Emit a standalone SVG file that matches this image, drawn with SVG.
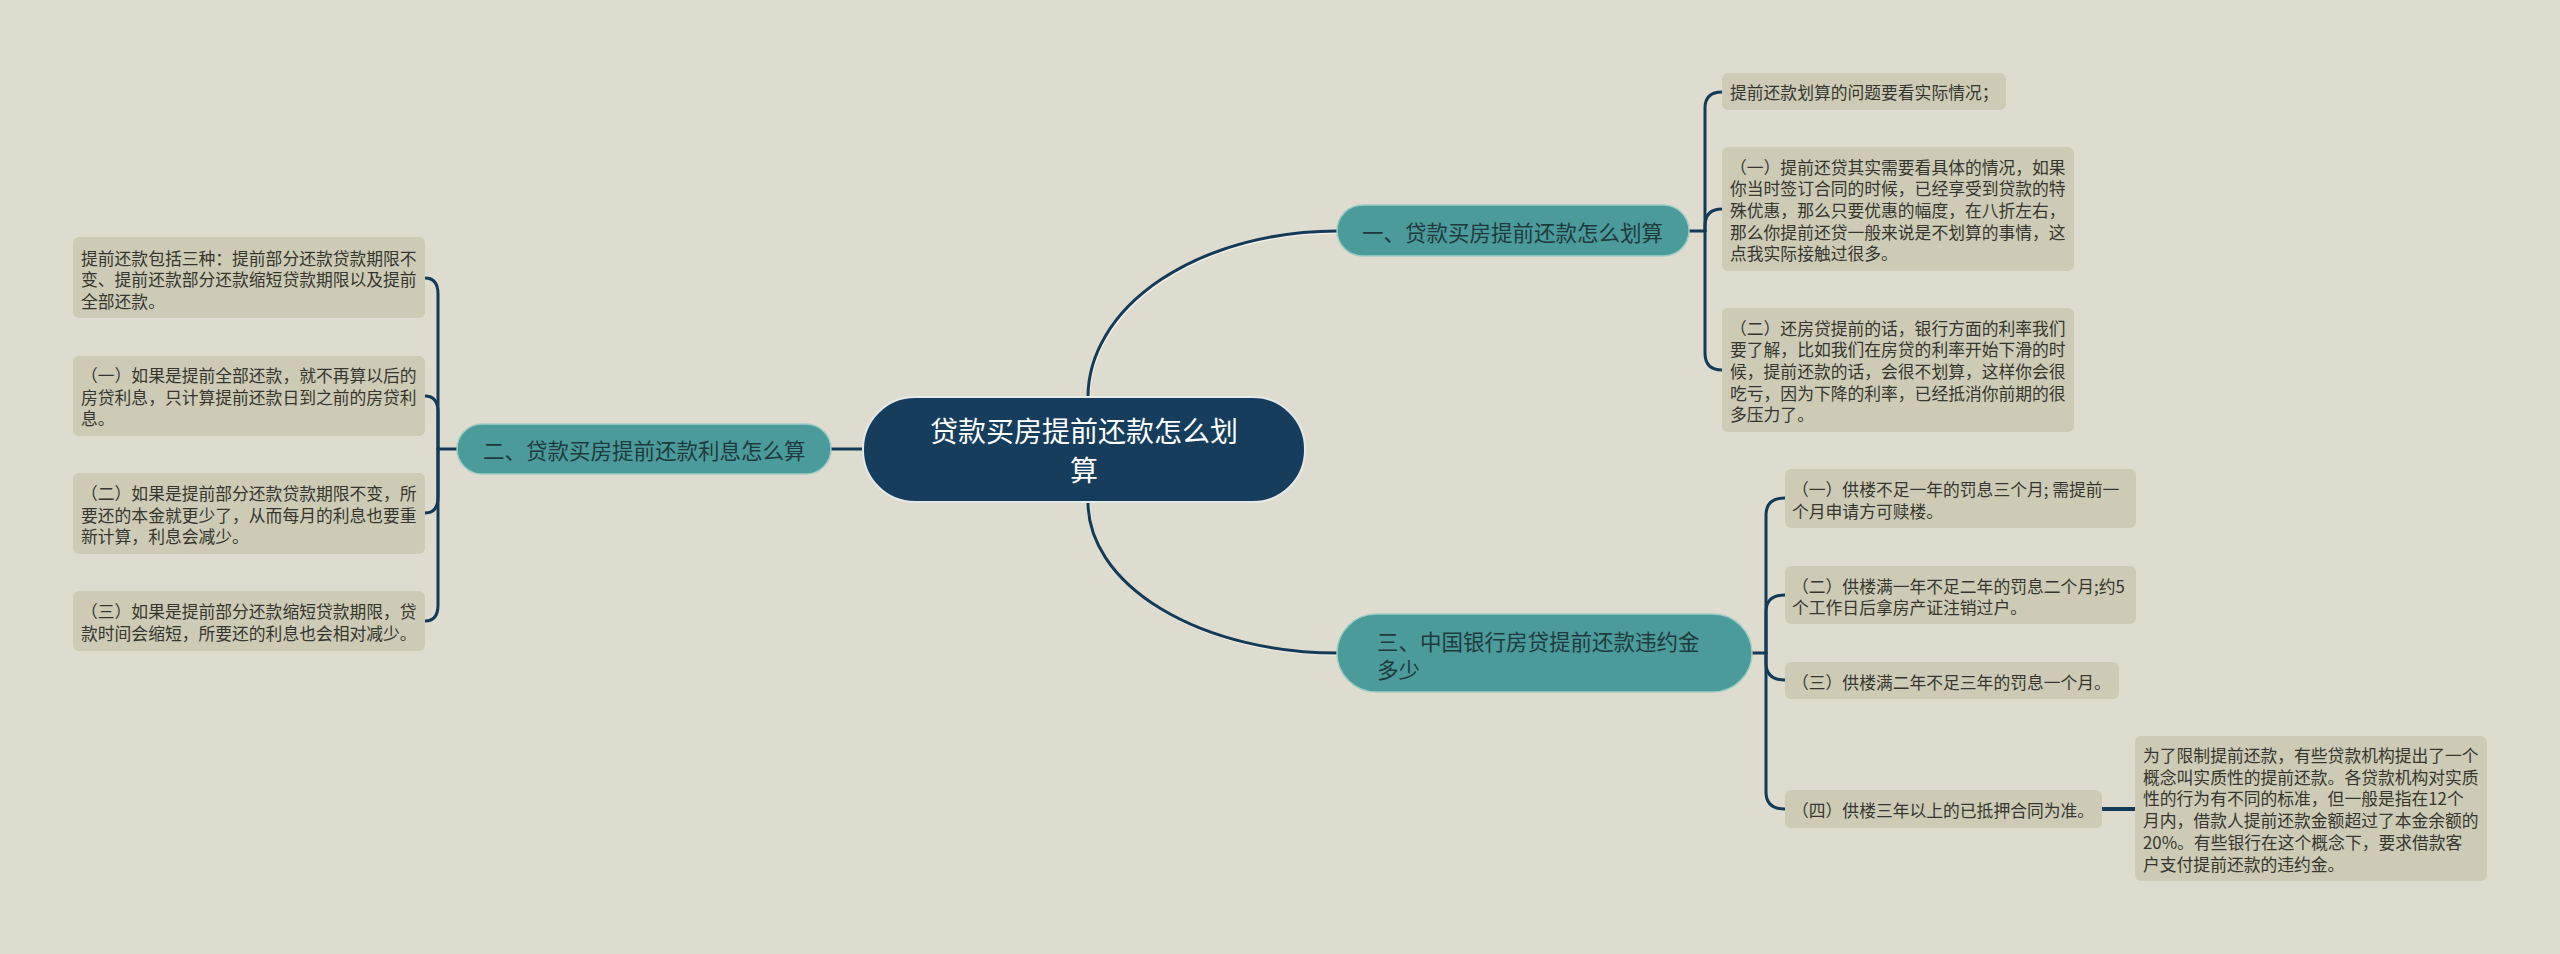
<svg xmlns="http://www.w3.org/2000/svg" width="2560" height="954" viewBox="0 0 2560 954">
<style>
.ln{fill:none;stroke:#133a59;stroke-width:3;stroke-linecap:round}
.hl{fill:none;stroke:#f6f5ee;stroke-width:2.5;opacity:0.85}
.cb{fill:#cdcbb5}
.ct{font-family:"Noto Sans CJK SC","Noto Sans",sans-serif;font-size:16.8px;fill:#36362e;dominant-baseline:central}
.bb{fill:#4c9b9b;stroke:#9fcbc6;stroke-width:1.5}
.bt{font-family:"Noto Sans CJK SC","Noto Sans",sans-serif;font-size:21.5px;fill:#1f3a3c;dominant-baseline:central}
.rb{fill:#173d5c;stroke:#e4e9ea;stroke-width:2}
.rt{font-family:"Noto Sans CJK SC","Noto Sans",sans-serif;font-size:28px;fill:#ffffff;dominant-baseline:central;text-anchor:middle}
</style>
<rect width="2560" height="954" fill="#dedcce"/>
<g id="connectors">
<g transform="translate(1,1.5)">
<path class="hl" d="M1088,397 A249,166 0 0 1 1337,231"/>
<path class="hl" d="M1088,502 A249,151 0 0 0 1337,653"/>
</g>
<path class="ln" d="M1088,397 A249,166 0 0 1 1337,231"/>
<path class="ln" d="M1088,502 A249,151 0 0 0 1337,653"/>
<path class="ln" d="M831,449 L863,449"/>
<path class="ln" d="M1689,231 L1705,231"/>
<path class="ln" d="M1705,231 L1705,108 Q1705,92 1722,92"/>
<path class="ln" d="M1705,231 L1705,226 Q1705,209 1722,209"/>
<path class="ln" d="M1705,231 L1705,353 Q1705,370 1722,370"/>
<path class="ln" d="M457,449 L438,449"/>
<path class="ln" d="M438,449 L438,294 Q438,278 425,278"/>
<path class="ln" d="M438,449 L438,412 Q438,396 425,396"/>
<path class="ln" d="M438,449 L438,497 Q438,513 425,513"/>
<path class="ln" d="M438,449 L438,605 Q438,621 425,621"/>
<path class="ln" d="M1752,653 L1766,653"/>
<path class="ln" d="M1766,653 L1766,515 Q1766,498 1785,498"/>
<path class="ln" d="M1766,653 L1766,612 Q1766,595 1785,595"/>
<path class="ln" d="M1766,653 L1766,663 Q1766,680 1785,680"/>
<path class="ln" d="M1766,653 L1766,792 Q1766,809 1785,809"/>
<path class="ln" d="M2102,809 L2135,809" style="stroke-width:4"/>
</g>
<g id="root">
<rect class="rb" x="863" y="397" width="442" height="105" rx="52"/>
<text class="rt" x="1084" y="430">贷款买房提前还款怎么划</text>
<text class="rt" x="1084" y="469">算</text>
</g>
<g id="branch1">
<rect class="bb" x="1337" y="205" width="352" height="51" rx="25.5"/>
<text class="bt" x="1362" y="231">一、贷款买房提前还款怎么划算</text>
</g>
<g id="branch2">
<rect class="bb" x="457" y="424" width="374" height="50" rx="25"/>
<text class="bt" x="483" y="449">二、贷款买房提前还款利息怎么算</text>
</g>
<g id="branch3">
<rect class="bb" x="1337" y="614" width="415" height="78" rx="39"/>
<text class="bt" x="1377" y="640">三、中国银行房贷提前还款违约金</text>
<text class="bt" x="1377" y="668">多少</text>
</g>
<g id="c1">
<rect class="cb" x="1722" y="73" width="284" height="37" rx="6"/>
<text class="ct" x="1730" y="92">提前还款划算的问题要看实际情况；</text>
</g>
<g id="c2">
<rect class="cb" x="1722" y="147" width="352" height="124" rx="6"/>
<text class="ct" x="1730" y="166.5">（一）提前还贷其实需要看具体的情况，如果</text>
<text class="ct" x="1730" y="188.2">你当时签订合同的时候，已经享受到贷款的特</text>
<text class="ct" x="1730" y="209.9">殊优惠，那么只要优惠的幅度，在八折左右，</text>
<text class="ct" x="1730" y="231.6">那么你提前还贷一般来说是不划算的事情，这</text>
<text class="ct" x="1730" y="253.3">点我实际接触过很多。</text>
</g>
<g id="c3">
<rect class="cb" x="1722" y="308" width="352" height="124" rx="6"/>
<text class="ct" x="1730" y="327.5">（二）还房贷提前的话，银行方面的利率我们</text>
<text class="ct" x="1730" y="349.2">要了解，比如我们在房贷的利率开始下滑的时</text>
<text class="ct" x="1730" y="370.9">候，提前还款的话，会很不划算，这样你会很</text>
<text class="ct" x="1730" y="392.6">吃亏，因为下降的利率，已经抵消你前期的很</text>
<text class="ct" x="1730" y="414.3">多压力了。</text>
</g>
<g id="l1">
<rect class="cb" x="73" y="237" width="352" height="81" rx="6"/>
<text class="ct" x="81" y="257.5">提前还款包括三种：提前部分还款贷款期限不</text>
<text class="ct" x="81" y="279.2">变、提前还款部分还款缩短贷款期限以及提前</text>
<text class="ct" x="81" y="300.9">全部还款。</text>
</g>
<g id="l2">
<rect class="cb" x="73" y="356" width="352" height="80" rx="6"/>
<text class="ct" x="81" y="375">（一）如果是提前全部还款，就不再算以后的</text>
<text class="ct" x="81" y="396.7">房贷利息，只计算提前还款日到之前的房贷利</text>
<text class="ct" x="81" y="418.4">息。</text>
</g>
<g id="l3">
<rect class="cb" x="73" y="473" width="352" height="81" rx="6"/>
<text class="ct" x="81" y="492.8">（二）如果是提前部分还款贷款期限不变，所</text>
<text class="ct" x="81" y="514.5">要还的本金就更少了，从而每月的利息也要重</text>
<text class="ct" x="81" y="536.2">新计算，利息会减少。</text>
</g>
<g id="l4">
<rect class="cb" x="73" y="591" width="352" height="60" rx="6"/>
<text class="ct" x="81" y="611.2">（三）如果是提前部分还款缩短贷款期限，贷</text>
<text class="ct" x="81" y="632.9">款时间会缩短，所要还的利息也会相对减少。</text>
</g>
<g id="r1">
<rect class="cb" x="1785" y="469" width="351" height="59" rx="6"/>
<text class="ct" x="1792" y="489">（一）供楼不足一年的罚息三个月; 需提前一</text>
<text class="ct" x="1792" y="510.7">个月申请方可赎楼。</text>
</g>
<g id="r2">
<rect class="cb" x="1785" y="566" width="351" height="58" rx="6"/>
<text class="ct" x="1792" y="585.5">（二）供楼满一年不足二年的罚息二个月;约5</text>
<text class="ct" x="1792" y="607.2">个工作日后拿房产证注销过户。</text>
</g>
<g id="r3">
<rect class="cb" x="1785" y="662" width="334" height="37" rx="6"/>
<text class="ct" x="1792" y="681.5">（三）供楼满二年不足三年的罚息一个月。</text>
</g>
<g id="r4">
<rect class="cb" x="1785" y="790" width="317" height="38" rx="6"/>
<text class="ct" x="1792" y="810">（四）供楼三年以上的已抵押合同为准。</text>
</g>
<g id="r5">
<rect class="cb" x="2135" y="736" width="352" height="145" rx="6"/>
<text class="ct" x="2143" y="755">为了限制提前还款，有些贷款机构提出了一个</text>
<text class="ct" x="2143" y="776.7">概念叫实质性的提前还款。各贷款机构对实质</text>
<text class="ct" x="2143" y="798.4">性的行为有不同的标准，但一般是指在12个</text>
<text class="ct" x="2143" y="820.1">月内，借款人提前还款金额超过了本金余额的</text>
<text class="ct" x="2143" y="841.8">20%。有些银行在这个概念下，要求借款客</text>
<text class="ct" x="2143" y="863.5">户支付提前还款的违约金。</text>
</g>
</svg>
